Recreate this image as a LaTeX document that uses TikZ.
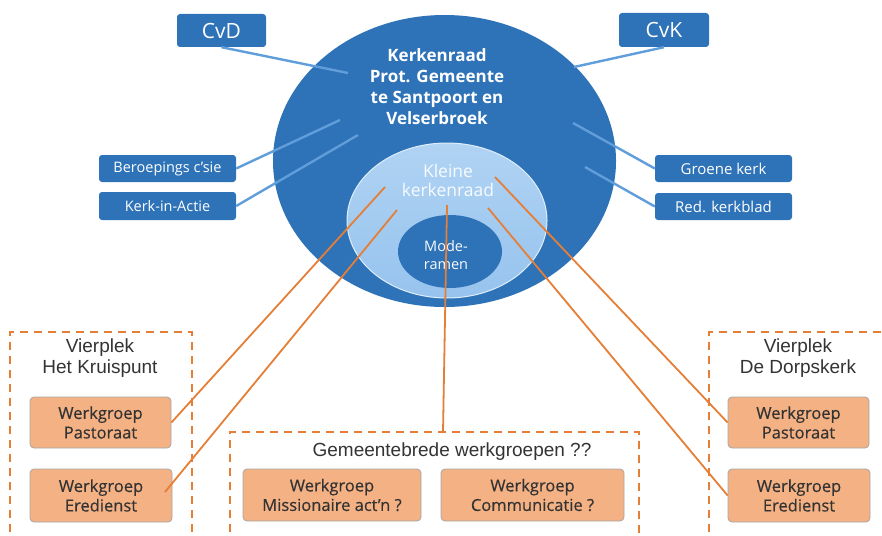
\documentclass[tikz,border=0pt]{standalone}
\usepackage{fontspec}
\setmainfont{Open Sans}
\newfontfamily\arialf{Liberation Sans}
\newfontfamily\boxf[FakeBold=0.35]{Open Sans}
\usetikzlibrary{shapes.geometric}
\definecolor{dblue}{HTML}{2E72B8}
\definecolor{lineblue}{HTML}{5F9DDB}
\definecolor{lblueT}{HTML}{B0D3F3}
\definecolor{lblueB}{HTML}{96C3EE}
\definecolor{orfill}{HTML}{F4B183}
\definecolor{orline}{HTML}{E57E36}
\definecolor{txtdark}{HTML}{333333}
\definecolor{kleintxt}{HTML}{F7FBFF}
\tikzset{
  bluebox/.style={draw=none, fill=dblue, rounded corners=3pt, text=white, inner sep=0pt, align=center},
  orbox/.style={draw=black!35, line width=0.8pt, fill=orfill, rounded corners=4pt, text=txtdark, inner sep=0pt, align=center, minimum height=52pt, font=\boxf\fontsize{16.5}{19.5}\selectfont},
  bline/.style={draw=lineblue, line width=2.4pt},
  oline/.style={draw=orline, line width=1.8pt},
  dbox/.style={draw=orline, line width=2pt, dash pattern=on 8pt off 6pt},
  ttl/.style={text=txtdark, align=center, inner sep=0pt, font=\arialf\fontsize{19}{21.5}\selectfont}
}
\begin{document}
\begin{tikzpicture}[x=1pt,y=-1pt]
\useasboundingbox (0,0) rectangle (882,535);
\clip (0,0) rectangle (882,535);
% big ellipse
\node[ellipse, fill=dblue, minimum width=343pt, minimum height=292pt, inner sep=0pt] (kr) at (444.5,161) {};
% blue line endpoints inside ellipse
\coordinate (e1) at (348,73);
\coordinate (e2) at (340,120);
\coordinate (e3) at (358,135);
\coordinate (e4) at (574,67);
\coordinate (e5) at (573,123);
\coordinate (e6) at (585,167);
% blue boxes
\node[bluebox, minimum width=89pt, minimum height=33pt, font=\fontsize{21}{24}\selectfont] (cvd) at (221.5,30.5) {CvD};
\node[bluebox, minimum width=90pt, minimum height=34pt, font=\fontsize{21}{24}\selectfont] (cvk) at (664,30) {CvK};
\node[bluebox, minimum width=137pt, minimum height=27pt, font=\fontsize{14.5}{17}\selectfont] (ber) at (167.5,168.5) {Beroepings c’sie};
\node[bluebox, minimum width=137pt, minimum height=28pt, font=\fontsize{14.5}{17}\selectfont] (kia) at (167.5,206) {Kerk-in-Actie};
\node[bluebox, minimum width=137pt, minimum height=27pt, font=\fontsize{15}{17}\selectfont] (gk) at (723.5,168.5) {Groene kerk};
\node[bluebox, minimum width=137pt, minimum height=27pt, font=\fontsize{15}{17}\selectfont] (rk) at (723.5,206.5) {Red. kerkblad};
% blue connectors
\draw[bline] (cvd.south) -- (e1);
\draw[bline] (ber.east) -- (e2);
\draw[bline] (kia.east) -- (e3);
\draw[bline] (cvk.south) -- (e4);
\draw[bline] (gk.west) -- (e5);
\draw[bline] (rk.west) -- (e6);
% title text
\node[text=white, align=center, inner sep=0pt, font=\bfseries\fontsize{17}{21}\selectfont] (krt) at (437,86.5) {Kerkenraad\\Prot. Gemeente\\te Santpoort en\\Velserbroek};
% inner ellipses
\node[ellipse, top color=lblueT, bottom color=lblueB, draw=white!60!lblueT, line width=1pt, minimum width=200pt, minimum height=155pt, inner sep=0pt] (kk) at (447,220.5) {};
\node[ellipse, fill=dblue, minimum width=104pt, minimum height=73pt, inner sep=0pt] (mod) at (450,251.5) {};
\node[text=kleintxt, align=center, inner sep=0pt, font=\fontsize{17.5}{19}\selectfont] (kkt) at (448,180) {Kleine\\kerkenraad};
\node[text=white!92!lblueT, align=center, inner sep=0pt, font=\fontsize{14.5}{18}\selectfont] (modt) at (446,255) {Mode-\\ramen};
% dashed group boxes
\draw[dbox] (10,560) -- (10,332) -- (192,332) -- (192,560);
\draw[dbox] (230,560) -- (230,432) -- (639,432) -- (639,560);
\draw[dbox] (709,560) -- (709,332) -- (900,332);
\node[ttl] (vk) at (100,358) {Vierplek\\Het Kruispunt};
\node[ttl] (vd) at (798,358) {Vierplek\\De Dorpskerk};
\node[ttl] (gw) at (452,452) {Gemeentebrede werkgroepen ??};
% orange boxes
\node[orbox, minimum width=141pt, minimum height=51pt] (lp) at (100.5,422.5) {Werkgroep\\Pastoraat};
\node[orbox, minimum width=142pt, minimum height=53pt] (le) at (101,495.5) {Werkgroep\\Eredienst};
\node[orbox, minimum width=178pt] (mi) at (332,495) {Werkgroep\\Missionaire act’n ?};
\node[orbox, minimum width=183pt] (co) at (532.5,495) {Werkgroep\\Communicatie ?};
\node[orbox, minimum width=141pt, minimum height=51pt] (rp) at (798.5,422.5) {Werkgroep\\Pastoraat};
\node[orbox, minimum width=142pt, minimum height=53pt] (re) at (799,495.5) {Werkgroep\\Eredienst};
% orange connector endpoints
\coordinate (o1) at (385,187);
\coordinate (o2) at (397,210);
\coordinate (o3) at (447,205);
\coordinate (o4) at (495,177);
\coordinate (o5) at (488,208);
\coordinate (m1) at (443,432);
\coordinate (le1) at (165,492);
\draw[oline] (o1) -- (lp.east);
\draw[oline] (o2) -- (le1);
\draw[oline] (o3) -- (m1);
\draw[oline] (o4) -- (rp.west);
\draw[oline] (o5) -- (re.west);
\end{tikzpicture}
\end{document}
